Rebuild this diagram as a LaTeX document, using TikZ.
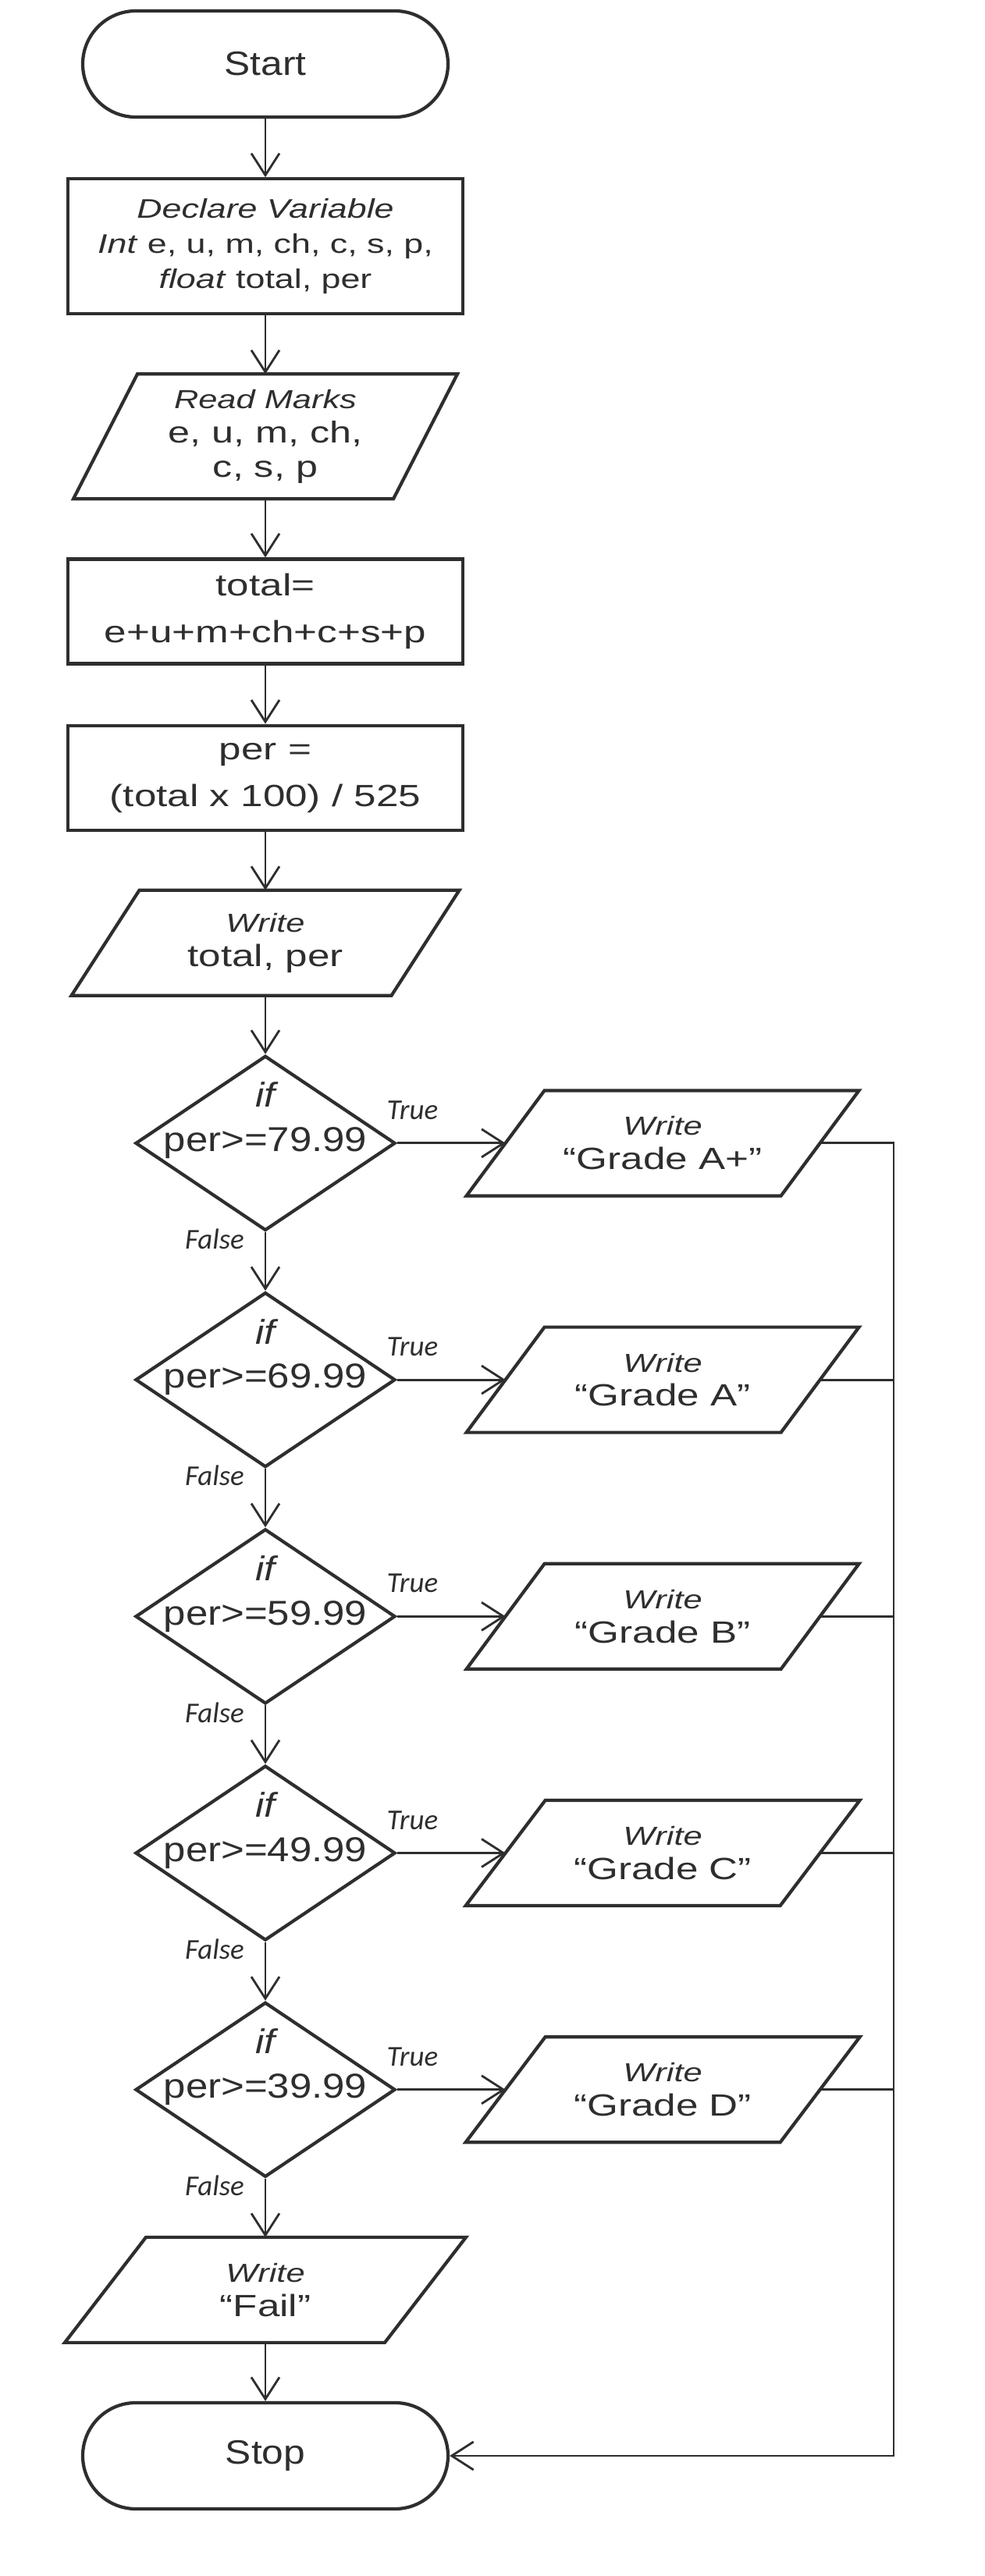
\documentclass[tikz,border=0pt]{standalone}
\usepackage{fontspec}
\setmainfont[FakeStretch=1.3]{Liberation Sans}
\newfontfamily\tallfont[FakeStretch=1.15]{Liberation Sans}
\newfontfamily\lblfont{Carlito}
\usepackage{tikz}
\usetikzlibrary{arrows.meta,positioning,shapes.geometric}
\definecolor{inkc}{HTML}{2E2E2E}
\newcommand{\wlbl}[1]{{\fontsize{9.5}{12}\selectfont\itshape #1}}
% slanted outline round an io node: #1 node, #2 half of the slant
\newcommand{\drawio}[2]{\draw[ioline] ([xshift=-#2]#1.south west) -- ([xshift=-#2]#1.south east)
  -- ([xshift=#2]#1.north east) -- ([xshift=#2]#1.north west) -- cycle;}

\begin{document}
\begin{tikzpicture}[
  node distance=7.5mm,
  every node/.style={text=inkc},
  term/.style={draw=inkc, line width=1.2pt, rounded corners=6.8mm, minimum width=46.8mm,
    minimum height=13.6mm, font=\tallfont\fontsize{12.3}{14}\selectfont},
  proc/.style={draw=inkc, line width=1.2pt, minimum width=50.6mm, minimum height=13.4mm,
    align=center, font=\fontsize{11.2}{17}\selectfont},
  io/.style={minimum width=41mm, minimum height=13.5mm, outer sep=0pt, inner sep=1pt,
    align=center, font=\fontsize{11.2}{12.5}\selectfont},
  ioline/.style={draw=inkc, line width=1.2pt},
  decision/.style={diamond, aspect=1.5, draw=inkc, line width=1.2pt, minimum width=33.3mm,
    minimum height=22.4mm, inner sep=0pt, font=\tallfont\fontsize{12.6}{14}\selectfont,
    label={[iflbl]center:if}},
  iflbl/.style={yshift=6.2mm, font=\tallfont\fontsize{12.5}{14}\selectfont\itshape},
  lbl/.style={font=\lblfont\itshape\fontsize{10.5}{12}\selectfont},
  truelbl/.style={lbl, pos=0, anchor=south west, xshift=-2.6mm, yshift=1.7mm},
  falselbl/.style={lbl, pos=0, anchor=east, xshift=-1.4mm, yshift=-0.9mm},
  arr/.style={draw=inkc, line width=0.8pt, -{Straight Barb[length=2.8mm, width=3.6mm]}},
  line/.style={draw=inkc, line width=0.8pt}
]
  \path[use as bounding box, fill=white] (0,0) rectangle (126.2mm,-330.1mm);

  % main column
  \node[term] (start) at (34mm,-8.2mm) {Start};
  \node[proc, below=of start, minimum height=17.3mm, font=\fontsize{9.8}{12.8}\selectfont] (declare)
    {\textit{Declare Variable}\\ \textit{Int} e, u, m, ch, c, s, p,\\ \textit{float} total, per};
  \node[io, below=of declare, minimum height=16mm, font=\fontsize{11}{12.5}\selectfont] (read)
    {\wlbl{Read Marks}\\ e, u, m, ch,\\ c, s, p};
  \node[proc, below=of read] (total) {total=\\e+u+m+ch+c+s+p};
  \node[proc, below=of total] (per) {per =\\(total x 100) / 525};
  \node[io, below=of per] (showtp) {\wlbl{Write}\\ total, per};

  \node[decision, below=of showtp] (d1) {per>=79.99};
  \node[decision, below=of d1] (d2) {per>=69.99};
  \node[decision, below=of d2] (d3) {per>=59.99};
  \node[decision, below=of d3] (d4) {per>=49.99};
  \node[decision, below=of d4] (d5) {per>=39.99};

  \node[io, below=of d5] (fail) {\wlbl{Write}\\ “Fail”};
  \node[term, below=of fail] (stop) {Stop};

  % grade outputs
  \node[io, right=13.9mm of d1, minimum width=40.3mm] (ga) {\wlbl{Write}\\ “Grade A+”};
  \node[io, right=13.9mm of d2, minimum width=40.3mm] (gb) {\wlbl{Write}\\ “Grade A”};
  \node[io, right=13.9mm of d3, minimum width=40.3mm] (gc) {\wlbl{Write}\\ “Grade B”};
  \node[io, right=13.9mm of d4, minimum width=40.3mm] (gd) {\wlbl{Write}\\ “Grade C”};
  \node[io, right=13.9mm of d5, minimum width=40.3mm] (ge) {\wlbl{Write}\\ “Grade D”};

  \drawio{read}{4.1mm}
  \drawio{showtp}{4.35mm}
  \drawio{fail}{5.2mm}
  \drawio{ga}{5mm}
  \drawio{gb}{5mm}
  \drawio{gc}{5mm}
  \drawio{gd}{5.1mm}
  \drawio{ge}{5.1mm}

  \coordinate (rail) at (114.5mm,0);

  \draw[arr] (start) -- (declare);
  \draw[arr] (declare) -- (read);
  \draw[arr] (read) -- (total);
  \draw[arr] (total) -- (per);
  \draw[arr] (per) -- (showtp);
  \draw[arr] (showtp) -- (d1);

  \draw[arr] (d1.south) -- node[falselbl] {False} (d2.north);
  \draw[arr] (d2.south) -- node[falselbl] {False} (d3.north);
  \draw[arr] (d3.south) -- node[falselbl] {False} (d4.north);
  \draw[arr] (d4.south) -- node[falselbl] {False} (d5.north);
  \draw[arr] (d5.south) -- node[falselbl] {False} (fail.north);
  \draw[arr] (fail) -- (stop);

  \draw[arr] (d1.east) -- node[truelbl] {True} (ga.west);
  \draw[arr] (d2.east) -- node[truelbl] {True} (gb.west);
  \draw[arr] (d3.east) -- node[truelbl] {True} (gc.west);
  \draw[arr] (d4.east) -- node[truelbl] {True} (gd.west);
  \draw[arr] (d5.east) -- node[truelbl] {True} (ge.west);

  % all grades join the rail down to Stop
  \draw[arr] (ga.east) -- (ga.east -| rail) |- (stop.east);
  \draw[line] (gb.east) -- (gb.east -| rail);
  \draw[line] (gc.east) -- (gc.east -| rail);
  \draw[line] (gd.east) -- (gd.east -| rail);
  \draw[line] (ge.east) -- (ge.east -| rail);
\end{tikzpicture}
\end{document}
